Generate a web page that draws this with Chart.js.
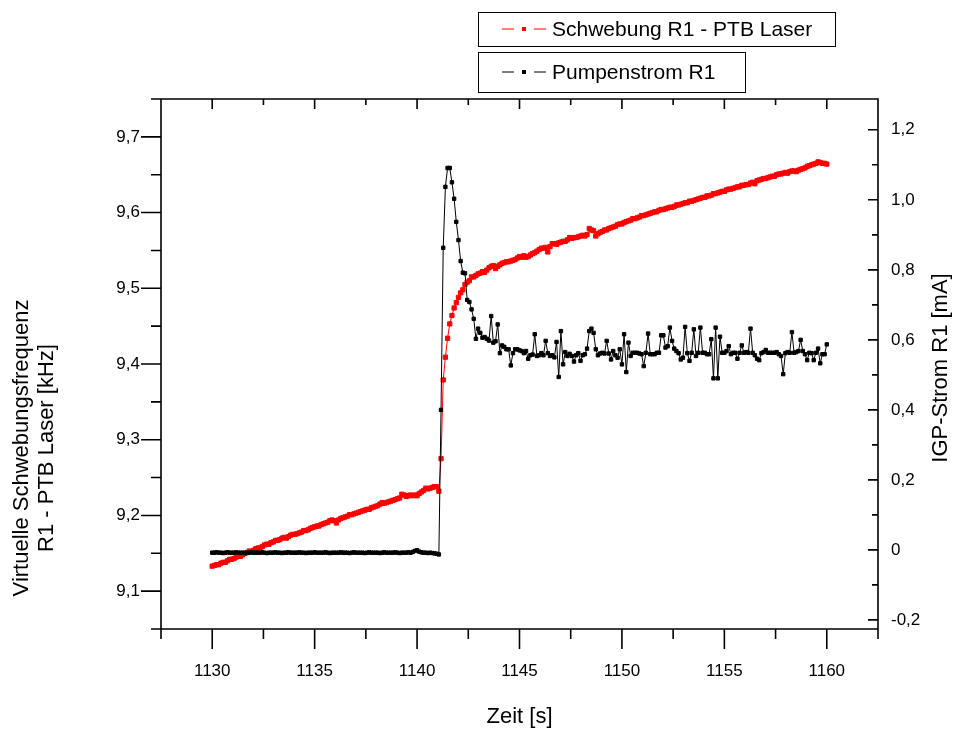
<!DOCTYPE html>
<html>
<head>
<meta charset="utf-8">
<script src="https://cdn.jsdelivr.net/npm/chart.js@4"></script>
<style>
  body { margin: 0; background: #fff; }
</style>
</head>
<body>
<canvas id="beat-chart" width="957" height="731"></canvas>
<script>
// sampling window (s), values are evenly spaced in time across it
var timeStart = 1130;
var timeEnd = 1160;

// Schwebung R1 - PTB Laser [kHz] (left axis)
var beatValues = [
  9.133, 9.134, 9.135, 9.135, 9.137, 9.138, 9.138, 9.140, 9.142, 9.142,
  9.143, 9.145, 9.146, 9.146, 9.148, 9.150, 9.151, 9.153, 9.152, 9.154,
  9.156, 9.157, 9.157, 9.159, 9.161, 9.162, 9.162, 9.164, 9.165, 9.167,
  9.167, 9.168, 9.170, 9.171, 9.170, 9.172, 9.174, 9.175, 9.175, 9.176,
  9.177, 9.178, 9.180, 9.180, 9.181, 9.183, 9.184, 9.185, 9.186, 9.186,
  9.188, 9.189, 9.190, 9.191, 9.193, 9.194, 9.193, 9.190, 9.194, 9.196,
  9.197, 9.198, 9.199, 9.201, 9.201, 9.202, 9.203, 9.204, 9.205, 9.206,
  9.207, 9.208, 9.208, 9.210, 9.211, 9.212, 9.213, 9.215, 9.217, 9.216,
  9.217, 9.218, 9.219, 9.220, 9.221, 9.222, 9.223, 9.228, 9.227, 9.225,
  9.226, 9.227, 9.226, 9.227, 9.226, 9.229, 9.231, 9.233, 9.236, 9.235,
  9.236, 9.237, 9.238, 9.238, 9.232,
  9.275,
  9.379, 9.409, 9.434, 9.453, 9.464, 9.474, 9.481, 9.488, 9.494, 9.498,
  9.505, 9.508, 9.510, 9.515, 9.515, 9.517, 9.519, 9.520, 9.522, 9.521,
  9.524, 9.527, 9.529, 9.530, 9.526, 9.529, 9.531, 9.533, 9.534, 9.535,
  9.535, 9.536, 9.537, 9.538, 9.540, 9.542, 9.541, 9.543, 9.541, 9.542,
  9.544, 9.546, 9.547, 9.549, 9.551, 9.553, 9.553, 9.554, 9.548, 9.555,
  9.559, 9.559, 9.558, 9.560, 9.561, 9.562, 9.562, 9.564, 9.567, 9.566,
  9.567, 9.567, 9.568, 9.569, 9.570, 9.569, 9.571, 9.579, 9.577, 9.576, 9.569, 9.572,
  9.574, 9.575, 9.577, 9.577, 9.579, 9.580, 9.581, 9.582, 9.584, 9.585,
  9.585, 9.587, 9.588, 9.589, 9.590, 9.592, 9.592, 9.593, 9.594, 9.596,
  9.596, 9.597, 9.598, 9.599, 9.600, 9.601, 9.601, 9.603, 9.604, 9.604,
  9.605, 9.606, 9.607, 9.607, 9.608, 9.610, 9.610, 9.611, 9.612, 9.613,
  9.613, 9.615, 9.615, 9.616, 9.617, 9.618, 9.619, 9.620, 9.620, 9.622,
  9.622, 9.623, 9.625, 9.625, 9.626, 9.627, 9.628, 9.628, 9.630, 9.631,
  9.631, 9.632, 9.633, 9.634, 9.634, 9.636, 9.636, 9.637, 9.637, 9.639,
  9.640, 9.638, 9.642, 9.643, 9.644, 9.645, 9.645, 9.646, 9.647, 9.648,
  9.648, 9.650, 9.651, 9.651, 9.652, 9.653, 9.652, 9.654, 9.655, 9.655,
  9.654, 9.656, 9.657, 9.658, 9.659, 9.661, 9.662, 9.663, 9.664, 9.665,
  9.667, 9.666, 9.665, 9.665, 9.664
];

// Pumpenstrom R1 / IGP-Strom [mA] (right axis)
var pumpValues = [
  -0.008, -0.008, -0.007, -0.008, -0.008, -0.009, -0.008, -0.007, -0.008, -0.008,
  -0.008, -0.007, -0.008, -0.008, -0.008, -0.009, -0.008, -0.008, -0.007, -0.008,
  -0.008, -0.008, -0.008, -0.007, -0.008, -0.009, -0.008, -0.008, -0.008, -0.007,
  -0.008, -0.008, -0.009, -0.008, -0.008, -0.007, -0.008, -0.008, -0.008, -0.008,
  -0.007, -0.008, -0.008, -0.009, -0.008, -0.008, -0.008, -0.007, -0.008, -0.008,
  -0.008, -0.008, -0.007, -0.008, -0.009, -0.008, -0.008, -0.008, -0.008, -0.007,
  -0.008, -0.008, -0.008, -0.009, -0.008, -0.007, -0.008, -0.008, -0.008, -0.008,
  -0.009, -0.008, -0.007, -0.008, -0.008, -0.008, -0.008, -0.009, -0.008, -0.007,
  -0.008, -0.008, -0.008, -0.008, -0.007, -0.008, -0.009, -0.008, -0.008, -0.008,
  -0.007, -0.008, -0.006, -0.003, -0.001, -0.005, -0.007, -0.008, -0.008, -0.009,
  -0.008, -0.009, -0.010, -0.011, -0.013,
  0.400,
  0.863, 1.037, 1.091, 1.091, 1.050, 1.003, 0.937, 0.885, 0.825, 0.792,
  0.790, 0.714, 0.708, 0.687, 0.660, 0.603, 0.632, 0.620, 0.606, 0.608,
  0.603, 0.598, 0.668, 0.592, 0.596, 0.644, 0.562, 0.584, 0.580, 0.573,
  0.573, 0.527, 0.562, 0.573, 0.573, 0.570, 0.568, 0.562, 0.568, 0.546,
  0.556, 0.558, 0.616, 0.554, 0.556, 0.562, 0.556, 0.597, 0.562, 0.554,
  0.556, 0.550, 0.594, 0.494, 0.625, 0.530, 0.565, 0.554, 0.560, 0.554,
  0.538, 0.556, 0.562,
  0.540, 0.556, 0.559, 0.575, 0.625, 0.632, 0.620, 0.573, 0.556, 0.561,
  0.563, 0.561, 0.597, 0.561, 0.544, 0.568, 0.556, 0.549, 0.573, 0.530,
  0.616, 0.508, 0.592, 0.554, 0.563, 0.563, 0.563, 0.561, 0.559, 0.525,
  0.563, 0.618, 0.559, 0.559, 0.559, 0.563, 0.563, 0.613, 0.613, 0.578,
  0.582, 0.635, 0.597, 0.575, 0.568, 0.562, 0.544, 0.549, 0.637, 0.562,
  0.540, 0.563, 0.630, 0.554, 0.563, 0.635, 0.563, 0.563, 0.559, 0.559,
  0.602, 0.490, 0.635, 0.490, 0.609, 0.563, 0.563, 0.568, 0.582, 0.559,
  0.563, 0.563, 0.546, 0.563, 0.584, 0.563, 0.565, 0.563, 0.632, 0.563,
  0.556, 0.546, 0.542, 0.562, 0.565, 0.571, 0.563, 0.563, 0.563, 0.563,
  0.565, 0.559, 0.554, 0.502, 0.562, 0.565, 0.563, 0.622, 0.563, 0.565,
  0.568, 0.600, 0.568, 0.559, 0.542, 0.563, 0.562, 0.542, 0.563, 0.575,
  0.533, 0.559, 0.559, 0.587
];

var seriesNames = ['Schwebung R1 - PTB Laser', 'Pumpenstrom R1'];
var seriesColors = ['#ff0000', '#000000'];

var xTicks = [1130, 1135, 1140, 1145, 1150, 1155, 1160];
var xTickLabels = ['1130', '1135', '1140', '1145', '1150', '1155', '1160'];
var leftTicks = [9.1, 9.2, 9.3, 9.4, 9.5, 9.6, 9.7];
var leftTickLabels = ['9,1', '9,2', '9,3', '9,4', '9,5', '9,6', '9,7'];
var rightTicks = [-0.2, 0, 0.2, 0.4, 0.6, 0.8, 1.0, 1.2];
var rightTickLabels = ['-0,2', '0', '0,2', '0,4', '0,6', '0,8', '1,0', '1,2'];

var xTitle = 'Zeit [s]';
var leftTitle = ['Virtuelle Schwebungsfrequenz', 'R1 - PTB Laser [kHz]'];
var rightTitle = 'IGP-Strom R1 [mA]';

var fontFamily = '"Liberation Sans", Arial, sans-serif';

function toPoints(values) {
  var step = (timeEnd - timeStart) / (values.length - 1);
  return values.map(function(v, i) {
    return { x: timeStart + i * step, y: v };
  });
}

function tickValues(list) {
  return function(scale) {
    scale.ticks = list.map(function(v) { return { value: v }; });
  };
}

// Origin style frame: axes box, major/minor ticks, titles and the two legend boxes
var originFrame = {
  id: 'originFrame',
  afterDraw: function(chart) {
    var ctx = chart.ctx;
    var a = chart.chartArea;
    var sx = chart.scales.x, sl = chart.scales.y, sr = chart.scales.y2;
    var k, v, p, len;

    ctx.save();
    ctx.strokeStyle = '#000';
    ctx.lineWidth = 1.6;
    ctx.beginPath();
    ctx.rect(a.left, a.top, a.right - a.left, a.bottom - a.top);

    // bottom (outward) and top (inward) ticks every 2.5 s
    for (k = 0; k <= 14; k++) {
      v = 1127.5 + 2.5 * k;
      p = sx.getPixelForValue(v);
      len = (k % 2 === 1) ? 20 : 10;
      ctx.moveTo(p, a.bottom);
      ctx.lineTo(p, a.bottom + len);
      ctx.moveTo(p, a.top);
      ctx.lineTo(p, a.top + ((k % 2 === 1) ? 10 : 6));
    }
    // left axis, outward
    for (k = 0; k <= 14; k++) {
      v = 9.05 + 0.05 * k;
      p = sl.getPixelForValue(v);
      len = (k % 2 === 1) ? 20 : 10;
      ctx.moveTo(a.left, p);
      ctx.lineTo(a.left - len, p);
    }
    // right axis, inward
    for (k = 0; k <= 14; k++) {
      v = -0.2 + 0.1 * k;
      p = sr.getPixelForValue(v);
      len = (k % 2 === 0) ? 10 : 6;
      ctx.moveTo(a.right, p);
      ctx.lineTo(a.right - len, p);
    }
    ctx.stroke();

    // axis titles
    ctx.fillStyle = '#000';
    ctx.textAlign = 'center';
    ctx.textBaseline = 'middle';
    ctx.font = '22px ' + fontFamily;
    ctx.fillText(xTitle, (a.left + a.right) / 2, 717);

    ctx.save();
    ctx.translate(22, 448);
    ctx.rotate(-Math.PI / 2);
    ctx.fillText(leftTitle[0], 0, 0);
    ctx.fillText(leftTitle[1], 0, 25);
    ctx.restore();

    ctx.save();
    ctx.translate(941, 368);
    ctx.rotate(-Math.PI / 2);
    ctx.fillText(rightTitle, 0, 0);
    ctx.restore();

    // legend boxes
    var boxes = [
      { x: 478, y: 12, w: 357, h: 34 },
      { x: 478, y: 52, w: 267, h: 40 }
    ];
    ctx.lineWidth = 1;
    ctx.font = '21px ' + fontFamily;
    ctx.textAlign = 'left';
    for (k = 0; k < 2; k++) {
      var b = boxes[k];
      var cy = b.y + b.h / 2;
      ctx.strokeStyle = '#000';
      ctx.strokeRect(b.x + 0.5, b.y + 0.5, b.w, b.h);
      ctx.strokeStyle = seriesColors[k];
      ctx.fillStyle = seriesColors[k];
      ctx.beginPath();
      ctx.moveTo(b.x + 24, cy);
      ctx.lineTo(b.x + 36, cy);
      ctx.moveTo(b.x + 56, cy);
      ctx.lineTo(b.x + 68, cy);
      ctx.stroke();
      ctx.fillRect(b.x + 44, cy - 2, 4, 4);
      ctx.fillStyle = '#000';
      ctx.fillText(seriesNames[k], b.x + 74, cy + 1);
    }
    ctx.restore();
  }
};

var tickFont = { family: fontFamily, size: 17 };

var ctx = document.getElementById('beat-chart').getContext('2d');
var beatChart = new Chart(ctx, {
  type: 'line',
  data: {
    datasets: [{
      label: seriesNames[0],
      data: toPoints(beatValues),
      yAxisID: 'y',
      borderColor: seriesColors[0],
      backgroundColor: seriesColors[0],
      borderWidth: 1,
      pointStyle: 'rect',
      pointRadius: 3,
      pointBorderWidth: 1,
      order: 2
    }, {
      label: seriesNames[1],
      data: toPoints(pumpValues),
      yAxisID: 'y2',
      borderColor: seriesColors[1],
      backgroundColor: seriesColors[1],
      borderWidth: 1,
      pointStyle: 'rect',
      pointRadius: 2.4,
      pointBorderWidth: 1,
      order: 1
    }]
  },
  options: {
    responsive: false,
    animation: false,
    layout: { padding: { top: 99, left: 0, right: 0, bottom: 0 } },
    plugins: {
      legend: { display: false },
      tooltip: { enabled: false }
    },
    scales: {
      x: {
        type: 'linear',
        position: 'bottom',
        min: 1127.5,
        max: 1162.5,
        afterBuildTicks: tickValues(xTicks),
        afterFit: function(s) { s.height = 102; },
        grid: { display: false, drawTicks: false },
        border: { display: false },
        ticks: {
          padding: 32, color: '#000', font: tickFont, maxRotation: 0, autoSkip: false,
          callback: function(v, i) { return xTickLabels[i]; }
        }
      },
      y: {
        type: 'linear',
        position: 'left',
        min: 9.05,
        max: 9.75,
        afterBuildTicks: tickValues(leftTicks),
        afterFit: function(s) { s.width = 161; },
        grid: { display: false, drawTicks: false },
        border: { display: false },
        ticks: {
          padding: 21, color: '#000', font: tickFont, autoSkip: false,
          callback: function(v, i) { return leftTickLabels[i]; }
        }
      },
      y2: {
        type: 'linear',
        position: 'right',
        min: -0.226,
        max: 1.288,
        afterBuildTicks: tickValues(rightTicks),
        afterFit: function(s) { s.width = 79; },
        grid: { display: false, drawTicks: false },
        border: { display: false },
        ticks: {
          padding: 13, color: '#000', font: tickFont, autoSkip: false,
          callback: function(v, i) { return rightTickLabels[i]; }
        }
      }
    }
  },
  plugins: [originFrame]
});
</script>
</body>
</html>
